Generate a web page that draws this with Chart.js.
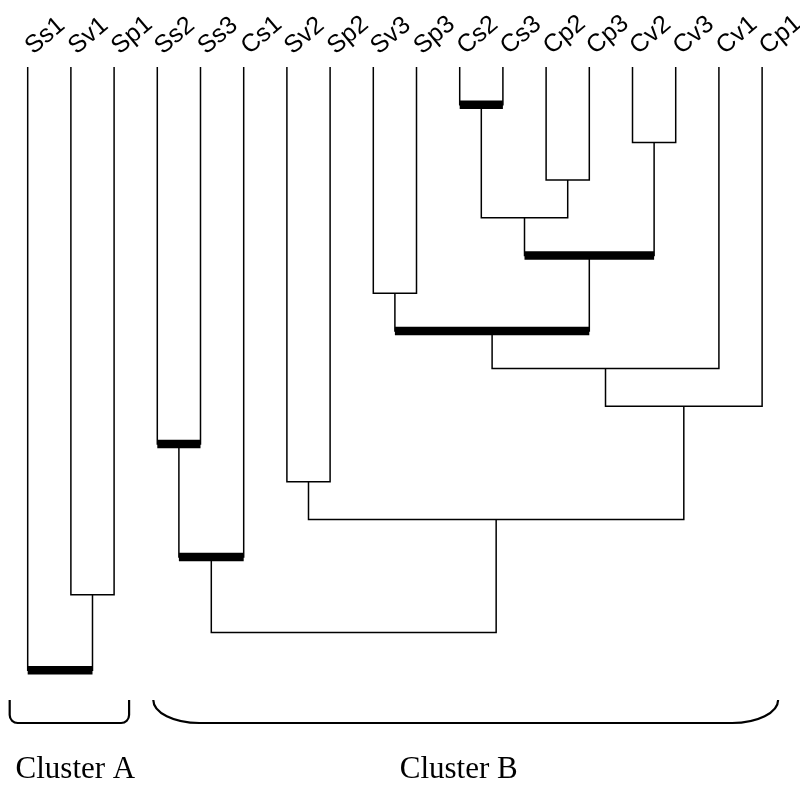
<!DOCTYPE html>
<html><head><meta charset="utf-8">
<script src="https://cdn.jsdelivr.net/npm/chart.js@4/dist/chart.umd.min.js"></script>
<style>html,body{margin:0;padding:0;background:#fff}#wrap{width:800px;height:785px;position:relative}</style>
</head><body><div id="wrap"><canvas id="c"></canvas></div>
<script>
// Leaf labels (left to right)
const leaves = ["Ss1","Sv1","Sp1","Ss2","Ss3","Cs1","Sv2","Sp2","Sv3","Sp3","Cs2","Cs3","Cp2","Cp3","Cv2","Cv3","Cv1","Cp1"];
// Merges: node ids 0..17 are leaves, merge k creates node 18+k
const mergeLeft   = [10,14,12,18,21, 8,23,24,25, 3, 6,28,27, 1,30, 0];
const mergeRight  = [11,15,13,20,19, 9,22,16,17, 4, 7,26, 5, 2,29,31];
const mergeHeight = [ 1, 2, 3, 4, 5, 6, 7, 8, 9,10,11,12,13,14,15,16];
const mergeBold   = [ 1, 0, 0, 0, 1, 0, 1, 0, 0, 1, 0, 0, 1, 0, 0, 1];
// Clusters (leaf index ranges)
const clusterNames = ["Cluster A","Cluster B"];
const clusterFirst = [0, 3];
const clusterLast  = [2, 17];

// compute node positions
const nodeX = leaves.map((_, i) => i);
const nodeH = leaves.map(() => 0);
const datasets = [];
mergeLeft.forEach((l, k) => {
  const r = mergeRight[k], h = mergeHeight[k];
  const xl = nodeX[l], xr = nodeX[r];
  nodeX.push((xl + xr) / 2);
  nodeH.push(h);
  datasets.push({
    data: [{x: xl, y: nodeH[l]}, {x: xl, y: h}, {x: xr, y: h}, {x: xr, y: nodeH[r]}],
    borderColor: '#000', borderWidth: 1.5, pointRadius: 0, showLine: true, fill: false,
    borderJoinStyle: 'miter', tension: 0
  });
  if (mergeBold[k]) {
    datasets.push({
      data: [{x: xl, y: h}, {x: xr, y: h}],
      borderColor: '#000', borderWidth: 8.5, pointRadius: 0, showLine: true, fill: false,
      borderCapStyle: 'butt'
    });
  }
});

const decor = {
  id: 'decor',
  afterDraw(chart) {
    const ctx = chart.ctx;
    const xs = chart.scales.x;
    ctx.save();
    ctx.fillStyle = '#000';
    ctx.font = "25px 'Liberation Sans', Arial, sans-serif";
    ctx.textAlign = 'left';
    ctx.textBaseline = 'alphabetic';
    leaves.forEach((name, i) => {
      ctx.save();
      ctx.translate(xs.getPixelForValue(i) + 5.5, 55);
      ctx.rotate(-40 * Math.PI / 180);
      ctx.fillText(name, 0, 0);
      ctx.restore();
    });
    // brackets
    const padL = [18, 4], padR = [15, 16], rx = [8, 46], ry = [8, 23], shift = [6, -7];
    const top = 700, bottom = 723;
    ctx.strokeStyle = '#000';
    ctx.lineWidth = 2.2;
    ctx.font = "31px 'Liberation Serif', 'Times New Roman', serif";
    ctx.textAlign = 'center';
    clusterNames.forEach((nm, c) => {
      const x0 = xs.getPixelForValue(clusterFirst[c]) - padL[c];
      const x1 = xs.getPixelForValue(clusterLast[c]) + padR[c];
      const cy = bottom - ry[c];
      ctx.beginPath();
      ctx.moveTo(x0, top);
      ctx.lineTo(x0, cy);
      ctx.ellipse(x0 + rx[c], cy, rx[c], ry[c], 0, Math.PI, Math.PI / 2, true);
      ctx.lineTo(x1 - rx[c], bottom);
      ctx.ellipse(x1 - rx[c], cy, rx[c], ry[c], 0, Math.PI / 2, 0, true);
      ctx.lineTo(x1, top);
      ctx.stroke();
      ctx.fillText(nm, (x0 + x1) / 2 + shift[c], 778);
    });
    ctx.restore();
  }
};

new Chart(document.getElementById('c'), {
  type: 'scatter',
  data: { datasets },
  options: {
    responsive: true, maintainAspectRatio: false, animation: false,
    layout: { padding: 0 },
    plugins: { legend: { display: false }, tooltip: { enabled: false } },
    scales: {
      x: { type: 'linear', display: false, min: -0.641, max: 17.877 },
      y: { type: 'linear', display: false, reverse: true, min: -1.777, max: 19.045 }
    }
  },
  plugins: [decor]
});
</script></body></html>
